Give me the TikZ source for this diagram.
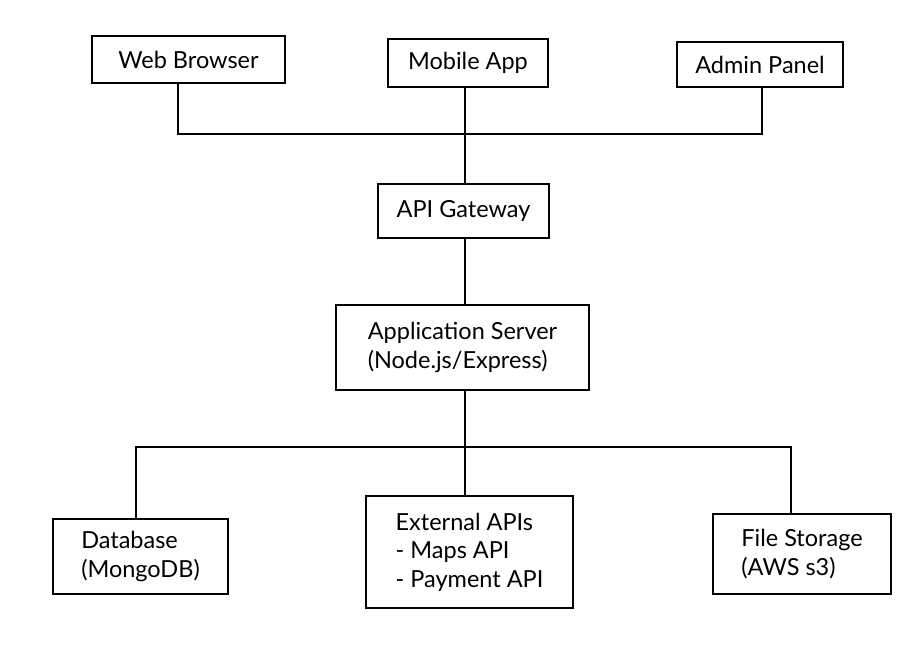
\documentclass[tikz,border=0pt]{standalone}
\usepackage{fontspec}
\setmainfont{Lato}

\begin{document}
\begin{tikzpicture}[x=1pt,y=1pt,
  box/.style={draw,line width=2.6pt,align=left,inner sep=0pt,font=\fontsize{23.5}{28.5}\selectfont},
  link/.style={line width=2.6pt}]
\useasboundingbox (0,0) rectangle (923,650);
\node[box,minimum width=193pt,minimum height=47pt] (web) at (188.5,590.5) {Web Browser};
\node[box,minimum width=160pt,minimum height=48pt] (mobile) at (468,587) {Mobile App};
\node[box,minimum width=166pt,minimum height=45pt] (admin) at (760,585.5) {Admin Panel};
\node[box,minimum width=171pt,minimum height=54pt] (gateway) at (463.5,439) {API Gateway};
\node[box,minimum width=253pt,minimum height=85pt] (server) at (462.5,302.5) {Application Server\\(Node.js/Express)};
\node[box,minimum width=175pt,minimum height=75pt] (db) at (140.5,93.5) {Database\\(MongoDB)};
\node[box,minimum width=207pt,minimum height=112pt] (ext) at (469.5,98) {External APIs\\- Maps API\\- Payment API};
\node[box,minimum width=178pt,minimum height=80pt] (files) at (802,96) {File Storage\\(AWS s3)};
\coordinate (hubT) at (465,516);
\coordinate (hubB) at (465,203);

\draw[link] ([xshift=-10.5pt]web.south) |- (hubT) -| ([xshift=2pt]admin.south);
\draw[link] (mobile.south -| hubT) -- (gateway.north -| hubT);
\draw[link] (gateway.south -| hubT) -- (server.north -| hubT);
\draw[link] (server.south -| hubB) -- (hubB);
\draw[link] ([xshift=-4.5pt]db.north) |- (hubB) -| ([xshift=-11pt]files.north);
\draw[link] (hubB) -- (ext.north -| hubB);
\end{tikzpicture}
\end{document}
